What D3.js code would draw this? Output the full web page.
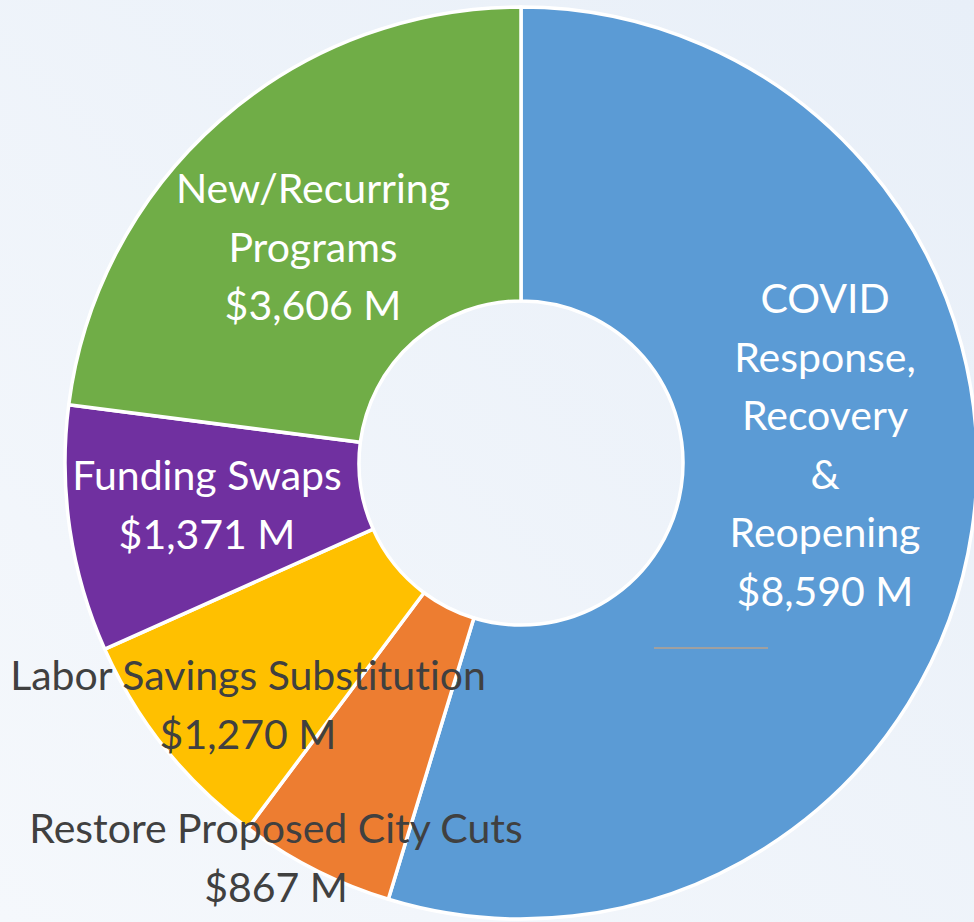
<!DOCTYPE html>
<html>
<head>
<meta charset="utf-8">
<script src="https://cdn.jsdelivr.net/npm/d3@7"></script>
<style>
  body { margin: 0; overflow: hidden; }
  text { font-family: Lato, "Open Sans", sans-serif; font-variant-ligatures: none; }
</style>
</head>
<body>
<div id="chart"></div>
<script>
// data
var categories = ["COVID Response, Recovery & Reopening", "Restore Proposed City Cuts",
                  "Labor Savings Substitution", "Funding Swaps", "New/Recurring Programs"];
var values = [8590, 867, 1270, 1371, 3606];
var valueLabels = ["$8,590 M", "$867 M", "$1,270 M", "$1,371 M", "$3,606 M"];
var labelLines = [["COVID", "Response,", "Recovery", "&", "Reopening"],
                  ["Restore Proposed City Cuts"],
                  ["Labor Savings Substitution"],
                  ["Funding Swaps"],
                  ["New/Recurring", "Programs"]];

// layout / style
var colors = ["#5b9bd5", "#ed7d31", "#ffc000", "#7030a0", "#70ad47"];
var labelAnchor = [[825, 313], [276, 843], [248, 690], [207, 490], [313, 203]];
var labelFill = ["#fff", "#404040", "#404040", "#fff", "#fff"];

var width = 974, height = 922,
    cx = 521, cy = 463,
    outerR = 456, innerR = 162,
    lineH = 58.5;

var svg = d3.select("#chart")
  .append("svg")
    .attr("width", width)
    .attr("height", height);

var grad = svg.append("defs").append("linearGradient")
    .attr("id", "bg")
    .attr("x1", "100%").attr("y1", "0%")
    .attr("x2", "0%").attr("y2", "100%");
grad.append("stop").attr("offset", "0%").attr("stop-color", "#e8eff8");
grad.append("stop").attr("offset", "100%").attr("stop-color", "#f5f8fc");

svg.append("rect")
    .attr("width", width)
    .attr("height", height)
    .attr("fill", "url(#bg)");

var data = categories.map(function(c, i) {
  return {name: c, value: values[i], i: i};
});

var pie = d3.pie()
  .sort(null)
  .value(function(d) { return d.value; });

var arc = d3.arc()
  .innerRadius(innerR)
  .outerRadius(outerR);

var g = svg.append("g")
    .attr("transform", "translate(" + cx + "," + cy + ")");

g.selectAll("path")
  .data(pie(data))
  .enter()
  .append("path")
    .attr("d", arc)
    .attr("fill", function(d) { return colors[d.data.i]; })
    .attr("stroke", "#fff")
    .attr("stroke-width", 3.5)
    .attr("stroke-linejoin", "round");

// stray leader line left on the slide
svg.append("line")
    .attr("x1", 654).attr("x2", 768)
    .attr("y1", 648).attr("y2", 648)
    .attr("stroke", "#a0a0a0")
    .attr("stroke-width", 2);

var labels = svg.selectAll("text.lbl")
  .data(data)
  .enter()
  .append("text")
    .attr("class", "lbl")
    .attr("text-anchor", "middle")
    .attr("font-size", 41)
    .attr("fill", function(d) { return labelFill[d.i]; });

labels.each(function(d) {
  var t = d3.select(this);
  var lines = labelLines[d.i].concat([valueLabels[d.i]]);
  lines.forEach(function(s, k) {
    t.append("tspan")
      .attr("x", labelAnchor[d.i][0])
      .attr("y", labelAnchor[d.i][1] + k * lineH)
      .text(s);
  });
});
</script>
</body>
</html>
